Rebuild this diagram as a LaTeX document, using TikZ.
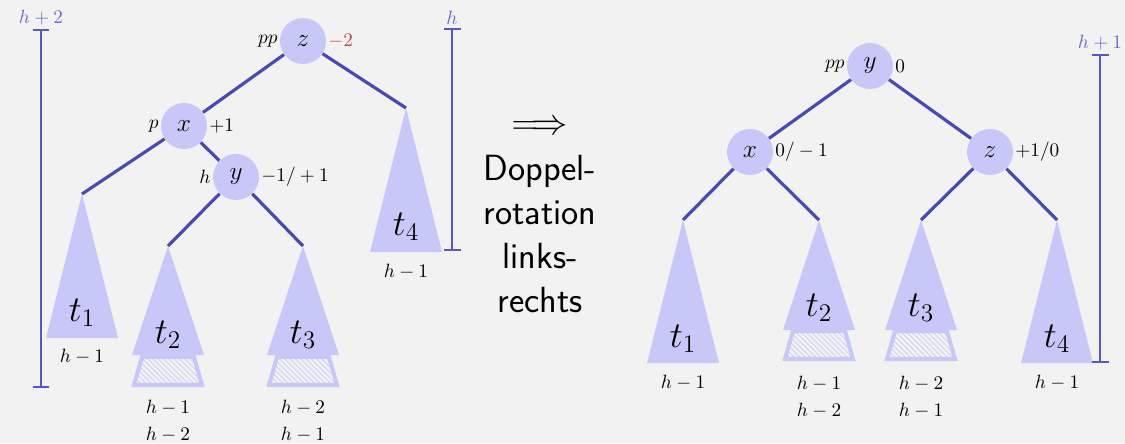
\documentclass[tikz,border=0pt]{standalone}
\usepackage{amsmath,amssymb}
\usetikzlibrary{arrows.meta,patterns}
\definecolor{bg}{RGB}{242,242,242}
\definecolor{tfill}{RGB}{200,200,248}
\definecolor{armc}{RGB}{72,72,182}
\definecolor{barc}{RGB}{88,88,192}
\definecolor{barl}{RGB}{105,105,210}
\definecolor{bal}{RGB}{190,70,70}
\tikzset{
  knot/.style={circle, fill=tfill, minimum size=0.92cm, inner sep=0pt, font=\Large},
  tri/.style={fill=tfill},
  ext/.style={draw=tfill, line width=2.3pt, pattern=north west lines, pattern color=tfill},
  arm/.style={draw=armc, line width=1.8pt},
  hbar/.style={barc, line width=1.1pt, {Bar[width=3.4mm]}-{Bar[width=3.4mm]}},
  lbl/.style={font=\fontsize{11}{13}\selectfont, inner sep=1pt},
  tl/.style={font=\huge},
  hl/.style={font=\fontsize{11}{15.3}\selectfont, align=center},
  bl/.style={font=\fontsize{10.5}{13}\selectfont, text=barl, inner sep=1pt},
}
\begin{document}
\begin{tikzpicture}[x=0.02cm, y=-0.02cm]
\fill[bg] (0,0) rectangle (1125,443);
\useasboundingbox (0,0) rectangle (1125,443);

% vorher
\coordinate (a1) at (82,194);
\coordinate (a2) at (168,246);
\coordinate (a3) at (303,246);
\coordinate (a4) at (406,108);
\filldraw[ext] (a2) ++(-26,111) -- ++(52,0) -- ++(8,28) -- ++(-68,0) -- cycle;
\filldraw[ext] (a3) ++(-26,111) -- ++(52,0) -- ++(8,28) -- ++(-68,0) -- cycle;
\fill[tri] (a1) -- ++(-36,144) -- ++(72,0) -- cycle;
\fill[tri] (a2) -- ++(-36,109) -- ++(72,0) -- cycle;
\fill[tri] (a3) -- ++(-36,109) -- ++(72,0) -- cycle;
\fill[tri] (a4) -- ++(-36,144) -- ++(72,0) -- cycle;
\node[tl] (n1) at (82,313) {$t_1$};
\node[tl] (n2) at (168,335) {$t_2$};
\node[tl] (n3) at (303,335) {$t_3$};
\node[tl] (n4) at (406,227) {$t_4$};
\node[hl] (h1) at (82,357) {$h-1$};
\node[hl] (h2) at (168,421) {$h-1$\\$h-2$};
\node[hl] (h3) at (303,421) {$h-2$\\$h-1$};
\node[hl] (h4) at (406,272) {$h-1$};

\node[knot, label={[lbl]left:$pp$}, label={[lbl, text=bal]right:$-2$}] (z) at (303,41) {$z$};
\node[knot, label={[lbl]left:$p$}, label={[lbl]right:$+1$}] (x) at (184,126) {$x$};
\node[knot, label={[lbl]left:$h$}, label={[lbl]right:$-1/+1$}] (y) at (236,177) {$y$};
\draw[arm] (z) -- (x);
\draw[arm] (z) -- (a4);
\draw[arm] (x) -- (a1);
\draw[arm] (x) -- (y);
\draw[arm] (y) -- (a2);
\draw[arm] (y) -- (a3);

\coordinate (p1) at (41,29);
\coordinate (q1) at (41,388);
\coordinate (p2) at (452,28);
\coordinate (q2) at (452,251);
\draw[hbar] (p1) -- (q1);
\draw[hbar] (p2) -- (q2);
\node[bl, above=1pt] (b1) at (p1) {$h+2$};
\node[bl, above=1pt] (b2) at (p2) {$h$};

% Mitte
\node[font=\huge, inner sep=0pt] (impl) at (540,128) {$\Longrightarrow$};
\node[font=\huge\sffamily, align=center, anchor=north, inner sep=0pt] (rot) at (540,155) {Doppel-\\rotation\\links-\\rechts};

% nachher
\coordinate (c1) at (683,220);
\coordinate (c2) at (819,220);
\coordinate (c3) at (921,220);
\coordinate (c4) at (1057,220);
\filldraw[ext] (c2) ++(-26,111) -- ++(52,0) -- ++(8,28) -- ++(-68,0) -- cycle;
\filldraw[ext] (c3) ++(-26,111) -- ++(52,0) -- ++(8,28) -- ++(-68,0) -- cycle;
\fill[tri] (c1) -- ++(-36,143) -- ++(72,0) -- cycle;
\fill[tri] (c2) -- ++(-36,110) -- ++(72,0) -- cycle;
\fill[tri] (c3) -- ++(-36,110) -- ++(72,0) -- cycle;
\fill[tri] (c4) -- ++(-36,143) -- ++(72,0) -- cycle;
\node[tl] (m1) at (683,339) {$t_1$};
\node[tl] (m2) at (819,308) {$t_2$};
\node[tl] (m3) at (921,308) {$t_3$};
\node[tl] (m4) at (1057,339) {$t_4$};
\node[hl] (g1) at (683,383) {$h-1$};
\node[hl] (g2) at (819,397) {$h-1$\\$h-2$};
\node[hl] (g3) at (921,397) {$h-2$\\$h-1$};
\node[hl] (g4) at (1057,383) {$h-1$};

\node[knot, label={[lbl]left:$pp$}, label={[lbl]right:$0$}] (y') at (870,66) {$y$};
\node[knot, label={[lbl]right:$0/-1$}] (x') at (750,152) {$x$};
\node[knot, label={[lbl]right:$+1/0$}] (z') at (990,152) {$z$};
\draw[arm] (y') -- (x');
\draw[arm] (y') -- (z');
\draw[arm] (x') -- (c1);
\draw[arm] (x') -- (c2);
\draw[arm] (z') -- (c3);
\draw[arm] (z') -- (c4);

\coordinate (p3) at (1100,54);
\coordinate (q3) at (1100,363);
\draw[hbar] (p3) -- (q3);
\node[bl, above=1pt] (b3) at (p3) {$h+1$};
\end{tikzpicture}
\end{document}
